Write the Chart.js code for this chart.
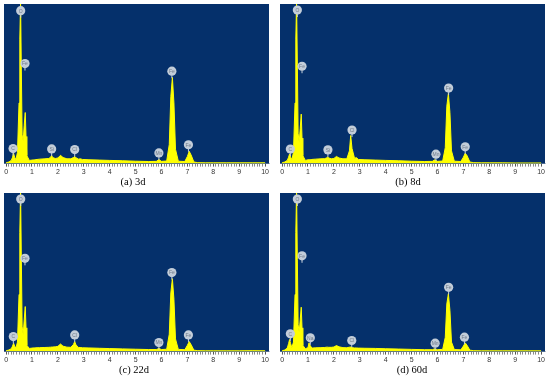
<!DOCTYPE html>
<html lang="en">
<head>
  <meta charset="UTF-8">
  <title>EDS spectra</title>
  <script src="https://cdn.jsdelivr.net/npm/chart.js"></script>
  <style>
    body { margin: 0; background: #fff; }
    #wrap { position: relative; width: 550px; height: 378px; }
    canvas { position: absolute; }
    .cap { position: absolute; width: 120px; text-align: center; font: 10.5px "Liberation Serif", "Times New Roman", serif; color: #000; }
  </style>
</head>
<body>
  <div id="wrap">
    <canvas id="c3d" width="275" height="178" style="left:0;top:0"></canvas>
    <canvas id="c8d" width="275" height="178" style="left:275px;top:0"></canvas>
    <canvas id="c22d" width="275" height="178" style="left:0;top:188px"></canvas>
    <canvas id="c60d" width="275" height="178" style="left:275px;top:188px"></canvas>
    <div class="cap" style="left:73px;top:176px">(a) 3d</div>
    <div class="cap" style="left:348px;top:176px">(b) 8d</div>
    <div class="cap" style="left:74px;top:364px">(c) 22d</div>
    <div class="cap" style="left:352px;top:364px">(d) 60d</div>
  </div>

  <script>
    // energia (keV) comun a los cuatro espectros
    const energy = [0, 0.1, 0.2, 0.25, 0.29, 0.33, 0.38, 0.44, 0.5, 0.53,
      0.56, 0.59, 0.62, 0.66, 0.7, 0.74, 0.77, 0.8, 0.9, 1.0,
      1.04, 1.08, 1.15, 1.3, 1.5, 1.65, 1.72, 1.76, 1.8, 1.9,
      2.0, 2.1, 2.2, 2.35, 2.5, 2.6, 2.65, 2.7, 2.8, 2.86,
      2.95, 3.2, 3.6, 4.0, 4.5, 5.0, 5.5, 5.8, 5.9, 6.0,
      6.2, 6.3, 6.36, 6.42, 6.48, 6.54, 6.65, 6.9, 7.0, 7.07,
      7.14, 7.25, 7.4, 7.7, 8.0, 8.5, 9.0, 9.5, 10.0];

    // cuentas relativas (0-100) de cada espectro
    const counts3d = [0.5, 1, 2, 4, 6.5, 4, 2.5, 7, 38, 78,
      102, 58, 18, 14, 24, 32, 17, 5, 2, 2.2,
      2.3, 2.3, 2.5, 2.8, 3, 3.2, 4, 5, 3.8, 3.2,
      3.5, 5.2, 3.8, 3, 3, 3.8, 4.5, 3.6, 2.8, 3,
      2.6, 2.4, 2.2, 2, 1.8, 1.5, 1.3, 1.4, 2.5, 1.4,
      1.6, 12, 42, 54, 38, 9, 1.5, 1.3, 4.5, 7.7,
      5.5, 1, 0.6, 0.5, 0.5, 0.5, 0.5, 0.5, 0.5];
    const counts8d = [0.5, 1, 2, 4, 6, 4, 2.5, 7, 38, 78,
      102, 62, 19, 13, 22, 31, 16, 5, 2, 2.4,
      2.4, 2.4, 2.6, 2.8, 3, 3.1, 3.6, 4.2, 3.5, 3,
      3.2, 4.5, 3.5, 3, 3, 8, 17.6, 9.5, 3.2, 3.8,
      2.6, 2.4, 2.2, 2, 1.8, 1.5, 1.3, 1.4, 2.4, 1.4,
      1.6, 10, 36, 44, 32, 8, 1.5, 1.3, 4, 6.5,
      5, 1, 0.6, 0.5, 0.5, 0.5, 0.4, 0.4, 0.4];
    const counts22d = [0.5, 1, 1.8, 3.5, 5.3, 3.5, 2.2, 6, 36, 75,
      102, 58, 16, 10.5, 20, 28.4, 15, 4, 2, 2.2,
      2.3, 2.3, 2.4, 2.5, 2.6, 2.7, 2.8, 2.9, 2.9, 3,
      3.3, 4.8, 3.4, 2.8, 2.7, 4.5, 6.3, 4.2, 2.6, 2.6,
      2.4, 2.3, 2.1, 1.9, 1.7, 1.5, 1.3, 1.3, 2, 1.3,
      1.5, 11, 37, 46, 33, 8, 1.4, 1.2, 4, 6.3,
      4.5, 0.9, 0.6, 0.5, 0.5, 0.5, 0.5, 0.6, 0.5];
    const counts60d = [0.5, 1, 2.2, 5, 7.6, 5, 2.5, 6, 36, 75,
      102, 58, 17, 12, 20, 28, 15, 4, 1.8, 2.5,
      5.5, 4, 2.2, 2.4, 2.5, 2.6, 2.8, 2.8, 2.7, 2.7,
      2.9, 3.8, 3, 2.5, 2.4, 2.8, 2.9, 2.5, 2.3, 2.3,
      2.2, 2.1, 2, 1.8, 1.6, 1.4, 1.2, 1.2, 1.8, 1.2,
      1.4, 9, 30, 36.5, 26, 6, 1.3, 1.1, 3.5, 5.5,
      4, 0.9, 0.6, 0.5, 0.5, 0.5, 0.5, 0.5, 0.5];

    // etiquetas del eje x
    const xTickLabels = [0, 1, 2, 3, 4, 5, 6, 7, 8, 9, 10];

    // etiquetas de los picos: elemento, energia, altura de la etiqueta
    const peaks3dName = ['C', 'O', 'Fe', 'Si', 'Cl', 'Mn', 'Fe', 'Fe'];
    const peaks3dE = [0.27, 0.565, 0.73, 1.76, 2.65, 5.9, 6.4, 7.04];
    const peaks3dH = [9.4, 95.8, 62.7, 9.2, 8.8, 6.7, 57.9, 11.8];

    const peaks8dName = ['C', 'O', 'Fe', 'Si', 'Cl', 'Mn', 'Fe', 'Fe'];
    const peaks8dE = [0.32, 0.59, 0.77, 1.77, 2.7, 5.94, 6.43, 7.07];
    const peaks8dH = [9.1, 96.2, 61, 8.6, 21, 5.9, 47.3, 10.5];

    const peaks22dName = ['C', 'O', 'Fe', 'Cl', 'Mn', 'Fe', 'Fe'];
    const peaks22dE = [0.28, 0.565, 0.73, 2.65, 5.9, 6.4, 7.04];
    const peaks22dH = [9.5, 96.2, 58.8, 10.5, 5.7, 49.8, 10.5];

    const peaks60dName = ['C', 'O', 'Fe', 'Na', 'Cl', 'Mn', 'Fe', 'Fe'];
    const peaks60dE = [0.32, 0.59, 0.77, 1.09, 2.69, 5.91, 6.43, 7.04];
    const peaks60dH = [11.2, 96.2, 60.4, 8.7, 7, 5.3, 40.5, 9.1];

    // fondo azul del area del grafico
    const fondoPlugin = {
      id: 'fondo',
      beforeDatasetsDraw(chart) {
        const a = chart.chartArea;
        const ctx = chart.ctx;
        ctx.save();
        ctx.fillStyle = '#05306b';
        ctx.fillRect(a.left, a.top, a.right - a.left, a.bottom - a.top);
        ctx.restore();
      }
    };

    // circulos con el nombre del elemento sobre cada pico
    const etiquetasPlugin = {
      id: 'etiquetas',
      afterDatasetsDraw(chart, args, opts) {
        const ctx = chart.ctx;
        const xs = chart.scales.x;
        const ys = chart.scales.y;
        ctx.save();
        opts.names.forEach((name, i) => {
          const px = xs.getPixelForValue(opts.e[i]);
          const py = ys.getPixelForValue(opts.h[i]);
          ctx.strokeStyle = '#c9d3de';
          ctx.lineWidth = 1;
          ctx.beginPath();
          ctx.moveTo(px, py + 4);
          ctx.lineTo(px, py + 7);
          ctx.stroke();
          ctx.fillStyle = '#c3cdd9';
          ctx.beginPath();
          ctx.arc(px, py, 4.6, 0, Math.PI * 2);
          ctx.fill();
          ctx.fillStyle = '#6f7b8a';
          ctx.font = '5px "Liberation Sans", Arial, sans-serif';
          ctx.textAlign = 'center';
          ctx.textBaseline = 'middle';
          ctx.fillText(name, px, py + 0.5);
        });
        ctx.restore();
      }
    };

    function dibujarEspectro(id, counts, names, e, h, pad) {
      const puntos = energy.map((x, i) => ({ x: x, y: counts[i] }));
      new Chart(document.getElementById(id), {
        type: 'scatter',
        data: {
          datasets: [{
            data: puntos,
            showLine: true,
            fill: 'origin',
            backgroundColor: '#ffff00',
            borderColor: '#ffff00',
            borderWidth: 1,
            pointRadius: 0,
            tension: 0
          }]
        },
        options: {
          responsive: false,
          animation: false,
          devicePixelRatio: 1,
          layout: { padding: pad },
          plugins: {
            legend: { display: false },
            tooltip: { enabled: false },
            etiquetas: { names: names, e: e, h: h }
          },
          scales: {
            x: {
              type: 'linear',
              min: -0.08,
              max: 10.15,
              afterBuildTicks: (scale) => {
                const t = [];
                for (let k = 0; k <= 100; k++) t.push({ value: k / 10 });
                scale.ticks = t;
              },
              ticks: {
                autoSkip: false,
                maxRotation: 0,
                padding: 1,
                color: '#333',
                font: { size: 7, family: '"Liberation Sans", Arial, sans-serif' },
                callback: (v) => {
                  const r = Math.round(v);
                  return (Math.abs(v - r) < 1e-6 && xTickLabels.includes(r)) ? String(r) : '';
                }
              },
              grid: {
                drawOnChartArea: false,
                tickLength: 3,
                tickColor: (c) => (Math.abs(c.tick.value - Math.round(c.tick.value)) < 1e-6 ? '#555' : '#8a8a8a')
              },
              border: { display: true, color: '#b8c0c8', width: 1 }
            },
            y: {
              min: 0,
              max: 100,
              display: false
            }
          }
        },
        plugins: [fondoPlugin, etiquetasPlugin]
      });
    }

    dibujarEspectro('c3d', counts3d, peaks3dName, peaks3dE, peaks3dH, { left: 4, right: 6, top: 4, bottom: 1 });
    dibujarEspectro('c8d', counts8d, peaks8dName, peaks8dE, peaks8dH, { left: 5, right: 5, top: 4, bottom: 1 });
    dibujarEspectro('c22d', counts22d, peaks22dName, peaks22dE, peaks22dH, { left: 4, right: 6, top: 5, bottom: 1 });
    dibujarEspectro('c60d', counts60d, peaks60dName, peaks60dE, peaks60dH, { left: 5, right: 5, top: 5, bottom: 1 });
  </script>
</body>
</html>
